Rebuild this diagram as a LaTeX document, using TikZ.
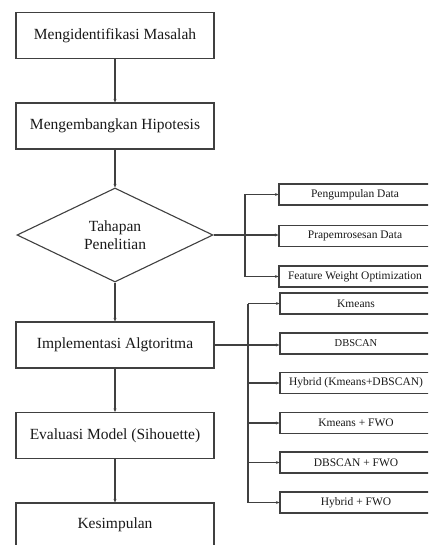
\documentclass[tikz,border=0pt]{standalone}
\usepackage{fontspec}
\setmainfont{Liberation Serif}
\usetikzlibrary{shapes.geometric,arrows.meta}
\definecolor{ln}{HTML}{404040}
\begin{document}
\begin{tikzpicture}[x=1pt,y=-1pt,
  mainbox/.style={draw=ln,line width=1.1pt,minimum width=198pt,minimum height=46pt,inner sep=0pt,font=\fontsize{15.5}{18}\selectfont,text=black!90},
  sidebox/.style={draw=ln,line width=1.1pt,minimum width=152pt,minimum height=21pt,inner sep=0pt,font=\fontsize{11.5}{13}\selectfont,text=black!90},
  conn/.style={draw=ln,line width=1.1pt},
  arr/.style={conn,-{Stealth[length=3.5pt,width=3pt]}}]
\useasboundingbox (0,0) rectangle (428,545);
\clip (0,0) rectangle (428,545);
\fill[white] (0,0) rectangle (428,545);
% main column
\node[mainbox] (m1) at (115,35.5) {Mengidentifikasi Masalah};
\node[mainbox] (m2) at (115,126) {Mengembangkan Hipotesis};
\node[draw=ln,line width=1.1pt,diamond,aspect=2.09,minimum width=196pt,minimum height=94pt,inner sep=0pt,align=center,font=\fontsize{15.5}{18}\selectfont,text=black!90] (d) at (115,235) {Tahapan\\Penelitian};
\node[mainbox] (m4) at (115,345) {Implementasi Algtoritma};
\node[mainbox] (m5) at (115,435.5) {Evaluasi Model (Sihouette)};
\node[mainbox,minimum height=50pt] (m6) at (115,528) {};
\node[font=\fontsize{15.5}{18}\selectfont,text=black!90] (m6t) at (115,525) {Kesimpulan};
% side boxes, top group
\node[sidebox] (s1) at (355,194.5) {Pengumpulan Data};
\node[sidebox] (s2) at (355,236) {Prapemrosesan Data};
\node[sidebox] (s3) at (355,276.5) {Feature Weight Optimization};
% side boxes, bottom group
\node[sidebox] (b1) at (356,303.5) {Kmeans};
\node[sidebox,font=\fontsize{10.5}{12}\selectfont] (b2) at (356,343.5) {DBSCAN};
\node[sidebox] (b3) at (356,383) {Hybrid (Kmeans+DBSCAN)};
\node[sidebox] (b4) at (356,423) {Kmeans + FWO};
\node[sidebox] (b5) at (356,462.5) {DBSCAN + FWO};
\node[sidebox] (b6) at (356,502.5) {Hybrid + FWO};
% main arrows
\draw[arr] (m1) -- (m2);
\draw[arr] (m2) -- (d);
\draw[arr] (d) -- (m4);
\draw[arr] (m4) -- (m5);
\draw[arr] (m5) -- (m6);
% top branch
\coordinate (t1) at (245,194.5);
\coordinate (t3) at (245,276.5);
\draw[arr] (d.east) -- (d.east -| s2.west);
\draw[conn] (t1) -- (t3);
\draw[arr] (t1) -- (s1.west);
\draw[arr] (t3) -- (s3.west);
% bottom branch
\coordinate (u1) at (248,303.5);
\coordinate (u3) at (248,383);
\coordinate (u4) at (248,423);
\coordinate (u5) at (248,462.5);
\coordinate (u6) at (248,502.5);
\draw[arr] (m4.east) -- (m4.east -| b2.west);
\draw[conn] (u1) -- (u6);
\draw[arr] (u1) -- (b1.west);
\draw[arr] (u3) -- (b3.west);
\draw[arr] (u4) -- (b4.west);
\draw[arr] (u5) -- (b5.west);
\draw[arr] (u6) -- (b6.west);
\end{tikzpicture}
\end{document}
